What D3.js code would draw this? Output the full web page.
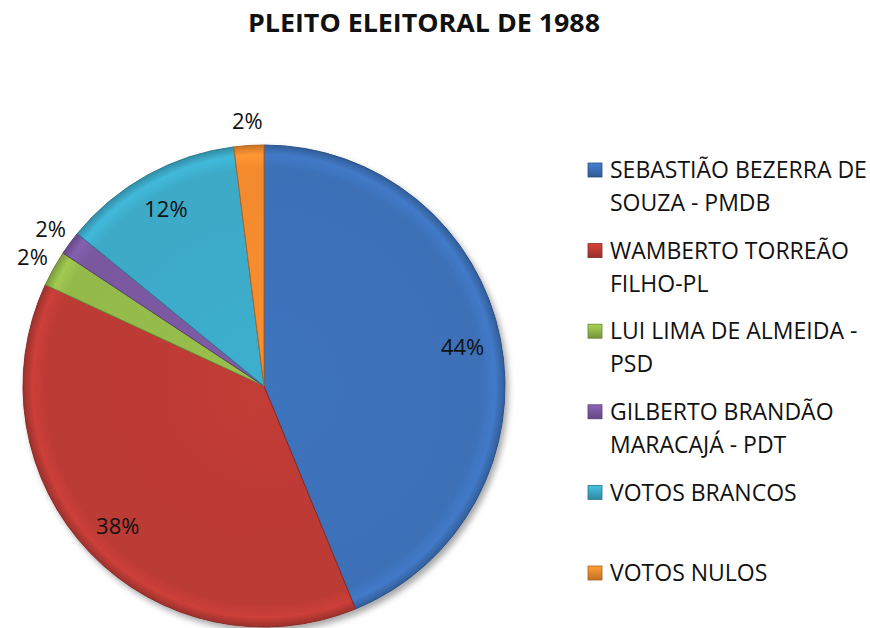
<!DOCTYPE html>
<html>
<head>
<meta charset="utf-8">
<script src="https://cdn.jsdelivr.net/npm/d3@7"></script>
<style>
  body { margin: 0; background: #fff; }
  svg { display: block; font-family: "Open Sans", sans-serif; }
</style>
</head>
<body>
<div id="chart"></div>
<script>
// values (share of votes, %)
const categories = ["SEBASTIÃO BEZERRA DE SOUZA - PMDB", "WAMBERTO TORREÃO FILHO-PL", "LUI LIMA DE ALMEIDA - PSD",
                    "GILBERTO BRANDÃO MARACAJÁ - PDT", "VOTOS BRANCOS", "VOTOS NULOS"];
const legendLines = [["SEBASTIÃO BEZERRA DE", "SOUZA - PMDB"], ["WAMBERTO TORREÃO", "FILHO-PL"],
                     ["LUI LIMA DE ALMEIDA -", "PSD"], ["GILBERTO BRANDÃO", "MARACAJÁ - PDT"],
                     ["VOTOS BRANCOS"], ["VOTOS NULOS"]];
const values = [43.8, 38.1, 2.4, 1.6, 12.1, 2.0];
const colors = ["#3c70b7", "#bb3a34", "#93b94a", "#7a58a0", "#3ca9c7", "#f28a2e"];
const title = "PLEITO ELEITORAL DE 1988";

function main(width = 870, height = 628) {
  const svg = d3.select("#chart").append("svg")
    .attr("width", width)
    .attr("height", height);

  const cx = 264, cy = 386, r = 241;
  const data = values.map((v, i) => ({ name: categories[i], value: v, color: colors[i], i: i }));

  const defs = svg.append("defs");
  defs.append("filter").attr("id", "shadow")
    .attr("x", "-10%").attr("y", "-10%").attr("width", "130%").attr("height", "130%")
    .append("feDropShadow")
    .attr("dx", 3).attr("dy", 4).attr("stdDeviation", 3)
    .attr("flood-color", "#000").attr("flood-opacity", 0.35);

  // radial shading per slice: flat inside, light rim then dark edge (bevel look)
  data.forEach(d => {
    const c = d3.color(d.color);
    const g = defs.append("radialGradient").attr("id", "grad" + d.i)
      .attr("gradientUnits", "userSpaceOnUse")
      .attr("cx", 0).attr("cy", 0).attr("r", r);
    g.append("stop").attr("offset", "0%").attr("stop-color", c.brighter(0.1));
    g.append("stop").attr("offset", "90%").attr("stop-color", c);
    g.append("stop").attr("offset", "96%").attr("stop-color", c.brighter(0.25));
    g.append("stop").attr("offset", "100%").attr("stop-color", c.darker(0.5));
  });

  const pie = d3.pie().sort(null).value(d => d.value);
  const arcs = pie(data);
  const arc = d3.arc().innerRadius(0).outerRadius(r);
  const inner = d3.arc().innerRadius(r * 0.84).outerRadius(r * 0.84);
  const outer = d3.arc().innerRadius(r * 1.1).outerRadius(r * 1.1);

  const g = svg.append("g").attr("transform", `translate(${cx},${cy})`);

  g.append("g").attr("filter", "url(#shadow)")
    .selectAll("path").data(arcs).enter()
    .append("path")
    .attr("d", arc)
    .attr("fill", d => `url(#grad${d.data.i})`)
    .attr("stroke", d => d3.color(d.data.color).darker(0.9))
    .attr("stroke-width", 1);

  // labels, small slices go outside
  const fmt = d3.format(".0f");
  g.selectAll("text.lbl").data(arcs).enter()
    .append("text").attr("class", "lbl")
    .attr("transform", d => `translate(${(d.data.value < 5 ? outer : inner).centroid(d)})`)
    .attr("text-anchor", "middle")
    .attr("dy", "0.35em")
    .attr("font-size", 22)
    .attr("fill", "#111")
    .text(d => fmt(d.data.value) + "%");

  // title
  svg.append("text")
    .attr("x", 424).attr("y", 32)
    .attr("text-anchor", "middle")
    .attr("font-size", 25).attr("font-weight", "bold")
    .attr("textLength", 352).attr("lengthAdjust", "spacingAndGlyphs")
    .attr("fill", "#111")
    .text(title);

  // legend
  data.forEach(d => {
    const c = d3.color(d.color);
    const lg = defs.append("linearGradient").attr("id", "lgrad" + d.i)
      .attr("x1", 0).attr("y1", 0).attr("x2", 0).attr("y2", 1);
    lg.append("stop").attr("offset", "0%").attr("stop-color", c.brighter(0.4));
    lg.append("stop").attr("offset", "100%").attr("stop-color", c.darker(0.6));
  });

  const ly = d3.scaleLinear().domain([0, legendLines.length - 1]).range([170, 573]);
  const leg = svg.append("g").selectAll("g").data(data).enter()
    .append("g").attr("transform", d => `translate(588,${ly(d.i)})`);

  leg.append("rect")
    .attr("x", 0).attr("y", -7).attr("width", 14).attr("height", 14)
    .attr("fill", d => `url(#lgrad${d.i})`)
    .attr("stroke", d => d3.color(d.color).darker(1))
    .attr("stroke-width", 0.8);

  leg.append("text")
    .attr("font-size", 23)
    .attr("fill", "#111")
    .selectAll("tspan").data(d => legendLines[d.i]).enter()
    .append("tspan")
    .attr("x", 22)
    .attr("y", (t, j) => j * 33)
    .attr("dy", "0.36em")
    .text(t => t);

  return svg.node();
}
main();
</script>
</body>
</html>
